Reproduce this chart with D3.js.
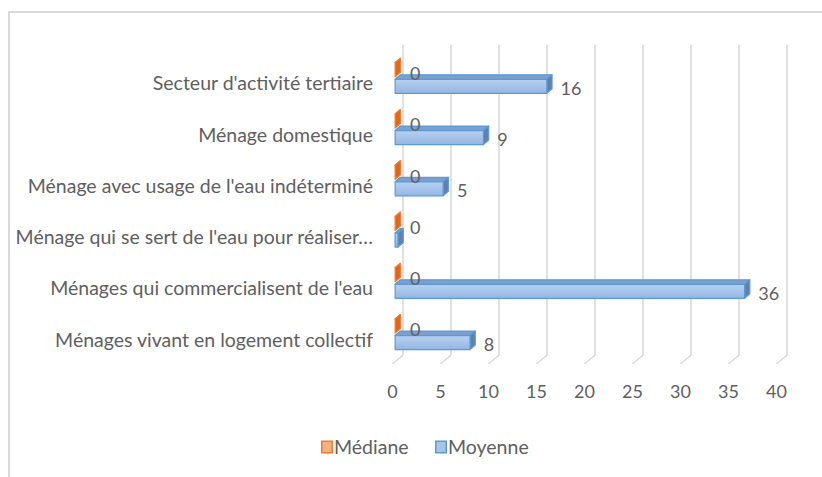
<!DOCTYPE html>
<html><head><meta charset="utf-8">
<script src="https://cdn.jsdelivr.net/npm/d3@7"></script>
<style>body{margin:0;background:#fff}svg{display:block}</style></head>
<body>
<svg id="c" width="822" height="477"></svg>
<script>
const categories = ["Secteur d'activité tertiaire","Ménage domestique","Ménage avec usage de l'eau indéterminé","Ménage qui se sert de l'eau pour réaliser…","Ménages qui commercialisent de l'eau","Ménages vivant en logement collectif"];
const series = ["Médiane","Moyenne"];
const medianValues = [0,0,0,0,0,0];
const meanValues = [15.8,9.2,5,0.3,36.4,7.8];
const xTicks = [0,5,10,15,20,25,30,35,40];

const FONT = "Lato, 'Open Sans', sans-serif";
const TXT = "#606060";
const svg = d3.select("#c");
const defs = svg.append("defs");
const g1 = defs.append("linearGradient").attr("id","gBlue").attr("x1",0).attr("y1",0).attr("x2",0).attr("y2",1);
g1.append("stop").attr("offset","0%").attr("stop-color","#b7d0f0");
g1.append("stop").attr("offset","100%").attr("stop-color","#94b6e4");

// outer border
svg.append("path").attr("d","M9,477 L9,12 L822,12").attr("fill","none").attr("stroke","#d9d9d9").attr("stroke-width",2);

const x = d3.scaleLinear().domain([0,40]).range([392.5,776.5]);
const D = {x:10.5, y:-9};
const yTop = 45, yFloor = 364;
const y = d3.scaleBand().domain(categories).range([57.3, 57.3 + 6*51.25]);
const inner = d3.scaleBand().domain(series).range([5.5,36]).paddingInner(2.5/16.5);

// gridlines (back wall + floor)
svg.append("g").selectAll("path").data(xTicks).join("path")
  .attr("d", t => `M${x(t)},${yFloor} L${x(t)+D.x},${yFloor+D.y} L${x(t)+D.x},${yTop}`)
  .attr("fill","none").attr("stroke","#d9d9d9").attr("stroke-width",1.6);

// tick labels
svg.append("g").selectAll("text").data(xTicks).join("text")
  .attr("x", t => x(t)).attr("y", 392).attr("dy","0.35em")
  .attr("text-anchor","middle").attr("font-family",FONT).attr("font-size",18).attr("fill",TXT)
  .text(d => d);

// category labels
svg.append("g").selectAll("text").data(categories).join("text")
  .attr("x", 373).attr("y", c => y(c) + y.bandwidth()/2 + 0.7).attr("dy","0.35em")
  .attr("text-anchor","end").attr("font-family",FONT).attr("font-size",19.5).attr("fill",TXT)
  .text(c => c);

const styles = {
  "Médiane": {front:"#f4b183", top:"#f08a45", side:"#e0661a", stroke:"#ed7d31"},
  "Moyenne": {front:"url(#gBlue)", top:"#7d9fd0", side:"#5f7fae", stroke:"#5b9bd5"}
};
const bd = {x:0.5*D.x, y:0.5*D.y};
const bx = v => x(v) + 0.25*D.x;

const data = [];
categories.forEach((c,i) => {
  data.push({c, s:"Médiane", v:medianValues[i]});
  data.push({c, s:"Moyenne", v:meanValues[i]});
});

const bars = svg.append("g");
data.forEach(d => {
  const st = styles[d.s];
  const yt = y(d.c) + inner(d.s);
  const h = inner.bandwidth();
  const x0 = bx(0), x1 = bx(d.v);
  const g = bars.append("g").attr("stroke",st.stroke).attr("stroke-width",1.2).attr("stroke-linejoin","round");
  g.append("polygon").attr("points",[[x0,yt],[x1,yt],[x1+bd.x,yt+bd.y],[x0+bd.x,yt+bd.y]].join(" ")).attr("fill",st.top);
  g.append("polygon").attr("points",[[x1,yt],[x1+bd.x,yt+bd.y],[x1+bd.x,yt+h+bd.y],[x1,yt+h]].join(" ")).attr("fill",st.side);
  if (x1 - x0 > 0.5) g.append("rect").attr("x",x0).attr("y",yt).attr("width",x1-x0).attr("height",h).attr("fill",st.front);
});

// value labels
const fmt = d3.format(".0f");
svg.append("g").selectAll("text").data(data.filter(d => d.s === "Médiane" || Math.round(d.v) > 0)).join("text")
  .attr("x", d => bx(d.v) + bd.x + (d.s === "Médiane" ? 9.5 : 8.5))
  .attr("y", d => y(d.c) + inner(d.s) + inner.bandwidth()/2 + (d.s === "Médiane" ? 4 : 2))
  .attr("dy","0.35em")
  .attr("font-family",FONT).attr("font-size",18).attr("fill",TXT)
  .text(d => fmt(d.v));

// legend
const leg = svg.append("g");
const legX = [321, 435];
series.forEach((s,i) => {
  const st = styles[s];
  leg.append("rect").attr("x",legX[i]+0.75).attr("y",441.25).attr("width",10.5).attr("height",11.5)
    .attr("fill", s === "Médiane" ? "#f4b183" : "#a9c4ea").attr("stroke",st.stroke).attr("stroke-width",1.5);
  leg.append("text").attr("x",legX[i]+13).attr("y",447).attr("dy","0.35em")
    .attr("font-family",FONT).attr("font-size",19.5).attr("fill",TXT).text(s);
});
</script>
</body></html>
